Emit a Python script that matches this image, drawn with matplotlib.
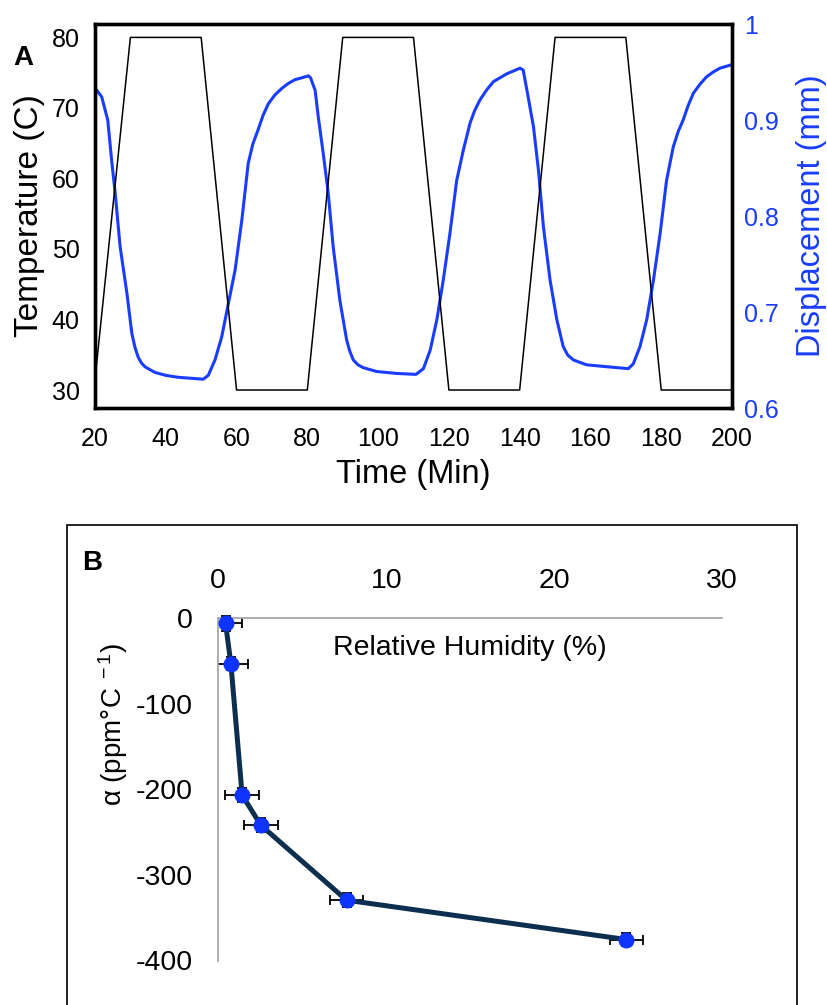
import matplotlib
matplotlib.use("Agg")
import matplotlib.pyplot as plt
from matplotlib.patches import Rectangle

plt.rcParams['font.family'] = ['Liberation Sans', 'DejaVu Sans']
plt.rcParams['mathtext.fontset'] = 'custom'
plt.rcParams['mathtext.rm'] = 'Liberation Sans'
plt.rcParams['mathtext.it'] = 'Liberation Sans:italic'
plt.rcParams['mathtext.default'] = 'regular'
plt.rcParams['axes.unicode_minus'] = False

# ---------------- Panel A data ----------------
temp_time = [20, 30, 50, 60, 80, 90, 110, 120, 140, 150, 170, 180, 200]
temp_vals = [31.5, 80, 80, 30, 30, 80, 80, 30, 30, 80, 80, 30, 30]

disp_time = [20.2, 20.5, 21.9, 23.6, 24.7, 25.7, 27.1, 29.0, 30.4, 31.3, 32.2, 33.1, 34.1, 35.5, 37.0,
             40.0, 43.5, 47.0, 50.6, 52.0, 53.9, 55.8, 57.7, 59.6, 61.5, 63.3, 64.6, 66.1,
             67.5, 69.0, 70.8, 72.8, 74.6, 76.5, 78.5, 80.3, 80.9, 82.2, 83.1, 84.5, 85.9, 87.3, 89.2, 91.1,
             92.0, 93.0, 94.3, 95.8, 99.6, 105.3, 110.7, 112.8, 114.7, 116.6, 118.4, 120.3, 122.2,
             124.1, 126.0, 127.3, 128.8, 130.6, 132.6, 136.3, 140.1, 141.0, 142.4, 143.9, 145.3,
             146.7, 148.6, 150.5, 152.3, 153.6, 155.2, 158.9, 164.6, 170.7, 172.1, 174.0,
             175.9, 177.8, 179.7, 181.5, 183.4, 184.8, 186.2, 187.6, 189.1, 190.9, 192.8, 194.7,
             196.6, 199.4, 200.0]
disp_vals = [0.932, 0.931, 0.924, 0.900, 0.858, 0.824, 0.768, 0.720, 0.678, 0.663, 0.653, 0.647, 0.643, 0.640, 0.637,
             0.634, 0.632, 0.631, 0.630, 0.634, 0.650, 0.674, 0.709, 0.744, 0.796, 0.855, 0.875, 0.890,
             0.905, 0.917, 0.926, 0.933, 0.938, 0.942, 0.944, 0.946, 0.944, 0.931, 0.903, 0.865, 0.824, 0.768, 0.712, 0.671,
             0.659, 0.650, 0.645, 0.642, 0.638, 0.636, 0.635, 0.641, 0.660, 0.692, 0.733, 0.782, 0.837,
             0.869, 0.897, 0.910, 0.921, 0.931, 0.940, 0.948, 0.954, 0.952, 0.924, 0.893, 0.848,
             0.789, 0.733, 0.692, 0.664, 0.655, 0.650, 0.645, 0.643, 0.641, 0.646, 0.664,
             0.692, 0.733, 0.782, 0.837, 0.872, 0.888, 0.900, 0.915, 0.928, 0.937, 0.945, 0.950,
             0.954, 0.957, 0.958]

time_ticks = [20, 40, 60, 80, 100, 120, 140, 160, 180, 200]
temp_ticks = [30, 40, 50, 60, 70, 80]
disp_ticks = [0.6, 0.7, 0.8, 0.9, 1.0]
disp_ticklabels = ['0.6', '0.7', '0.8', '0.9', '1']

# ---------------- Panel B data ----------------
rh = [0.43, 0.75, 1.42, 2.53, 7.64, 24.3]
alpha = [-5.8, -53, -206.7, -241.8, -329.5, -375.5]
rh_err = [1.0, 1.0, 1.0, 1.0, 1.0, 1.0]
alpha_err = [9, 8, 8, 8, 8, 8]
rh_ticks = [0, 10, 20, 30]
alpha_ticks = [0, -100, -200, -300, -400]

W, H = 828, 1005
fig = plt.figure(figsize=(W / 100, H / 100), dpi=100)

def fx(px):
    return px / W

def fy(py):
    return 1 - py / H

BLUE = '#1a3cff'

# ---------------- Panel A ----------------
axA = fig.add_axes([fx(95), fy(408), fx(732) - fx(95), fy(24) - fy(408)])
axA.plot(temp_time, temp_vals, color='black', lw=1.1)
axA.set_xlim(20, 200)
axA.set_ylim(27.45, 81.9)
axA.set_xticks(time_ticks)
axA.set_yticks(temp_ticks)
axA.tick_params(axis='both', length=0, labelsize=18)
axA.tick_params(axis='x', pad=14)
axA.tick_params(axis='y', pad=11)
for s in axA.spines.values():
    s.set_linewidth(2.4)
    s.set_color('black')

axB2 = axA.twinx()
axB2.plot(disp_time, disp_vals, color=BLUE, lw=2.2)
axB2.set_ylim(0.6, 1.0)
axB2.set_yticks(disp_ticks)
axB2.set_yticklabels(disp_ticklabels)
axB2.tick_params(axis='y', length=0, labelsize=18, colors=BLUE, pad=9)
for s in axB2.spines.values():
    s.set_linewidth(2.4)
    s.set_color('black')
axA.set_zorder(axB2.get_zorder() + 1)
axA.patch.set_visible(False)

fig.text(fx(30), fy(216), 'Temperature (C)', rotation=90, ha='center', va='center', fontsize=24)
fig.text(fx(812), fy(216), 'Displacement (mm)', rotation=90, ha='center', va='center',
         fontsize=23.5, color=BLUE)
fig.text(fx(413.5), fy(474), 'Time (Min)', ha='center', va='center', fontsize=23.5)
fig.text(fx(23), fy(58), 'A', ha='center', va='center', fontsize=20, fontweight='bold')

# ---------------- Panel B ----------------
fig.patches.append(Rectangle((fx(67), fy(1100)), fx(797) - fx(67), fy(525) - fy(1100),
                             transform=fig.transFigure, fill=False, edgecolor='black',
                             lw=1.2, zorder=0))

y_top_val = 6.0
px_per = 0.8555
top_px = 618.3 - y_top_val * px_per
axC = fig.add_axes([fx(218.3), fy(960.5), fx(722) - fx(218.3), fy(top_px) - fy(960.5)])
axC.set_xlim(0, 30)
axC.set_ylim(-400, y_top_val)
axC.errorbar(rh, alpha, xerr=rh_err, yerr=alpha_err, fmt='none', ecolor='black',
             elinewidth=1.3, capsize=3.8, capthick=1.3, zorder=2)
axC.plot(rh, alpha, color='#0d2f4f', lw=3.6, zorder=3)
axC.plot(rh, alpha, linestyle='none', marker='o', markersize=11.5, color='#1034ff',
         markeredgewidth=0, zorder=4)
for name in ['right', 'top']:
    axC.spines[name].set_visible(False)
axC.spines['bottom'].set_position(('data', 0))
axC.spines['left'].set_bounds(-400, 0)
for name in ['bottom', 'left']:
    axC.spines[name].set_color('#a0a0a0')
    axC.spines[name].set_linewidth(1.2)
axC.set_xticks(rh_ticks)
axC.set_yticks(alpha_ticks)
axC.xaxis.set_ticks_position('top')
axC.xaxis.set_label_position('top')
axC.tick_params(axis='x', length=0, labelsize=20.5, pad=14, top=False, labeltop=True,
                bottom=False, labelbottom=False)
axC.tick_params(axis='y', length=0, labelsize=20.5, pad=18.4)
axC.text(0.5, (960.5 - 648) / (960.5 - top_px), 'Relative Humidity (%)',
         transform=axC.transAxes, ha='center', va='center', fontsize=20.5)

fig.text(fx(113), fy(725), r'α (ppm°C$^{\ -1}$)', rotation=90, ha='center', va='center',
         fontsize=20)
fig.text(fx(92.5), fy(563), 'B', ha='center', va='center', fontsize=20, fontweight='bold')

fig.savefig('out.png', dpi=100)
